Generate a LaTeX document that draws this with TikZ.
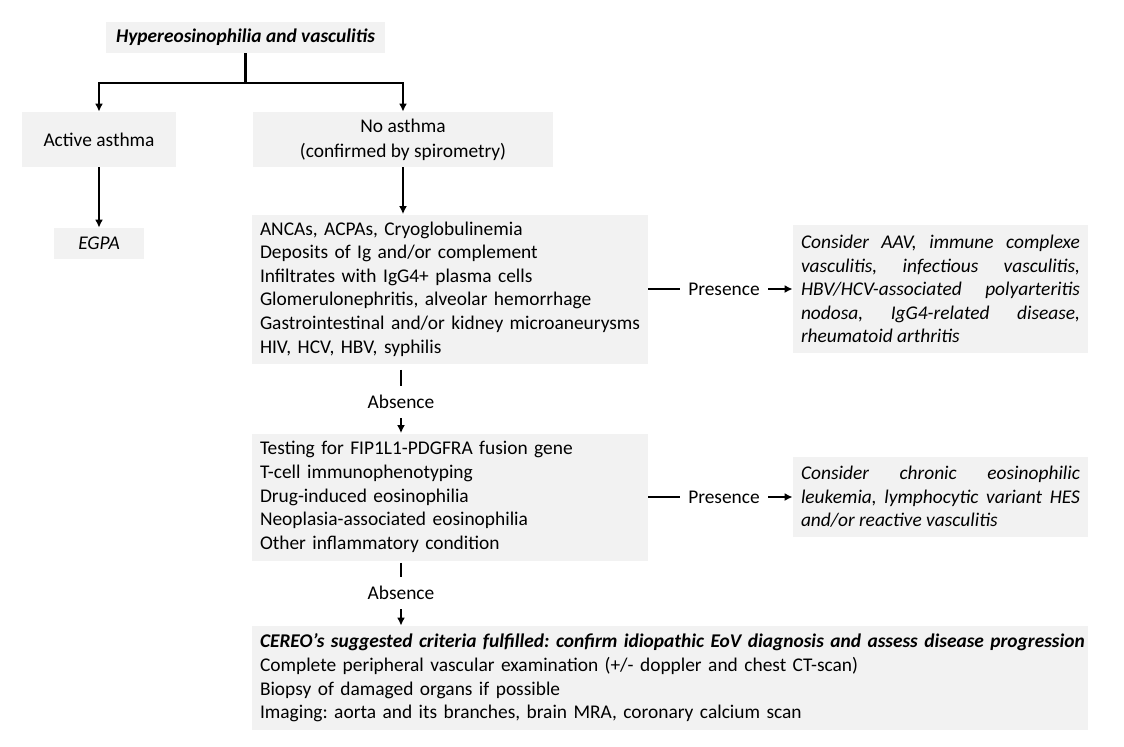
\documentclass[tikz,border=0pt]{standalone}
\usepackage{fontspec}
\setmainfont{Carlito}
\usepackage{xcolor}
\usetikzlibrary{arrows, arrows.meta}
\usetikzlibrary{positioning}
\usetikzlibrary{calc}
\definecolor{boxgray}{RGB}{242,242,242}
\tikzset{
	box/.style={fill=boxgray, inner xsep=4pt, inner ysep=0pt, font=\fontsize{9.7}{11.8}\selectfont},
	tag/.style={inner xsep=4pt, inner ysep=4.5pt, font=\fontsize{9.7}{11.8}\selectfont},
	link/.style={line width=1.2pt},
	thinlink/.style={line width=1pt}
}
\hyphenpenalty=10000
\hfuzz=10pt
\frenchspacing

\begin{document}
\begin{tikzpicture}[x=0.5pt, y=-0.5pt, >={Latex[length=4pt,width=4pt]}]
				\useasboundingbox (0,0) rectangle (1124,746);
				% draw boxes
				\node[box, minimum width=139.5pt, minimum height=15.5pt] (hyper) at (245.5,37.5) {\bfseries\itshape Hypereosinophilia and vasculitis};
				\node[box, minimum width=77pt, minimum height=27.5pt] (active) at (99,139.5) {Active asthma};
				\node[box, minimum width=45pt, minimum height=15.5pt] (egpa) at (99,243.5) {\itshape EGPA};
				\node[box, minimum width=150pt, minimum height=27.5pt, align=center, font=\fontsize{9.7}{12.5}\selectfont] (noasthma) at (403,139.5) {No asthma\\(confirmed by spirometry)};
				\node[box, text width=190pt, minimum height=74.5pt, align=left] (serology) at (450,289) {ANCAs, ACPAs, Cryoglobulinemia\\Deposits of Ig and/or complement\\Infiltrates with IgG4+ plasma cells\\Glomerulonephritis, alveolar hemorrhage\\\mbox{Gastrointestinal and/or kidney microaneurysms}\\HIV, HCV, HBV, syphilis};
				\node[box, text width=139.5pt, minimum height=64pt, align=justify, font=\fontsize{9.7}{11.75}\selectfont\itshape] (cons1) at (940.5,289) {Consider AAV, immune complexe\linebreak vasculitis, infectious vasculitis,\linebreak HBV/HCV-associated polyarteritis\linebreak nodosa, IgG4-related disease,\linebreak rheumatoid arthritis};
				\node[box, text width=190pt, minimum height=63.5pt, align=left] (hemato) at (450,497) {Testing for FIP1L1-PDGFRA fusion gene\\T-cell immunophenotyping\\Drug-induced eosinophilia\\Neoplasia-associated eosinophilia\\Other inflammatory condition};
				\node[box, text width=139.5pt, minimum height=40pt, align=justify, font=\fontsize{9.7}{11.75}\selectfont\itshape] (cons2) at (940.5,497) {Consider chronic eosinophilic\linebreak leukemia, lymphocytic variant HES\linebreak and/or reactive vasculitis};
				\node[box, text width=410pt, minimum height=52pt, align=left] (cereo) at (670,678) {\mbox{\bfseries\itshape CEREO’s suggested criteria fulfilled: confirm idiopathic EoV diagnosis and assess disease progression}\\Complete peripheral vascular examination (+/- doppler and chest CT-scan)\\Biopsy of damaged organs if possible\\Imaging: aorta and its branches, brain MRA, coronary calcium scan};
				% draw labels
				\node[tag] (pres1) at (724,289) {Presence};
				\node[tag] (pres2) at (724,497) {Presence};
				\node[tag] (abs1) at (401,402) {Absence};
				\node[tag] (abs2) at (401,593) {Absence};
				% draw arrows
				\coordinate (split) at (245.5,83);
				\draw[link] (hyper) -- (split);
				\draw[link, ->] (split) -| (active);
				\draw[link, ->] (split) -| (noasthma);
				\draw[link, ->] (active) -- (egpa);
				\draw[link, ->] (noasthma) -- (serology.north -| noasthma);
				\draw[thinlink] (serology) -- (pres1);
				\draw[thinlink, ->] (pres1) -- (cons1);
				\draw[thinlink] (hemato) -- (pres2);
				\draw[thinlink, ->] (pres2) -- (cons2);
				\draw[thinlink, shorten <=3pt] (abs1 |- serology.south) -- (abs1);
				\draw[thinlink, ->] (abs1) -- (abs1 |- hemato.north);
				\draw[thinlink, shorten <=1pt] (abs2 |- hemato.south) -- (abs2);
				\draw[thinlink, ->] (abs2) -- (abs2 |- cereo.north);
			\end{tikzpicture}
\end{document}
